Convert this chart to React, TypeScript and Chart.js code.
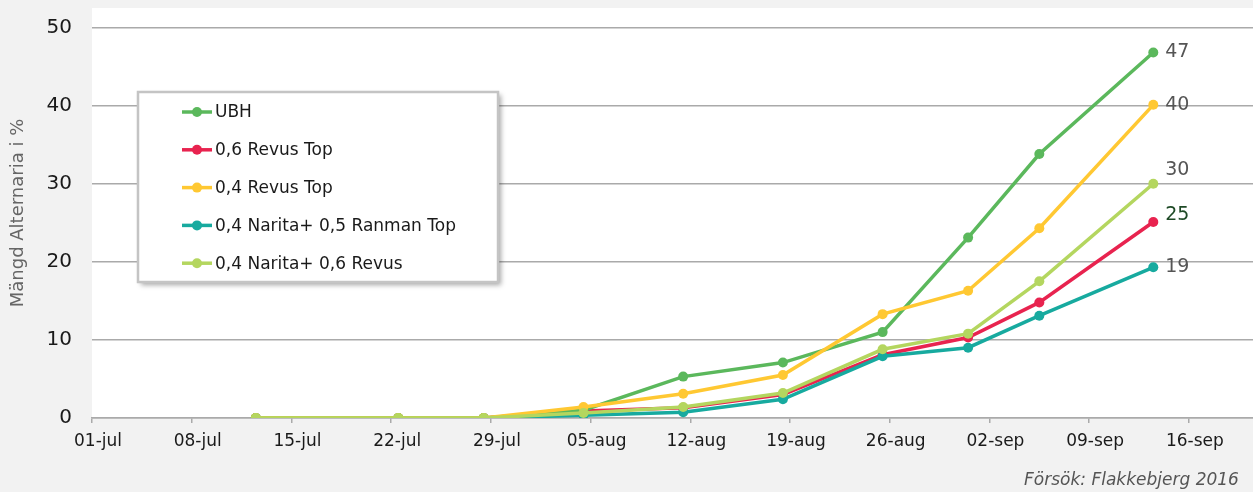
import React, { useEffect, useRef } from "react";
import { Chart, registerables } from "chart.js";

Chart.register(...registerables);

// Days after 01-jul on which samples were taken
const sampleDays = [11.5, 21.5, 27.5, 34.5, 41.5, 48.5, 55.5, 61.5, 66.5, 74.5];
const tickLabels = ["01-jul", "08-jul", "15-jul", "22-jul", "29-jul", "05-aug", "12-aug", "19-aug", "26-aug", "02-sep", "09-sep", "16-sep"];
const yTicks = [0, 10, 20, 30, 40, 50];

const seriesNames = ["UBH", "0,6 Revus Top", "0,4 Revus Top", "0,4 Narita+ 0,5 Ranman Top", "0,4 Narita+ 0,6 Revus"];
const ubh = [0, 0, 0, 1.0, 5.3, 7.1, 11.0, 23.1, 33.8, 46.8];
const revus06 = [0, 0, 0, 0.9, 1.3, 3.0, 8.1, 10.3, 14.8, 25.1];
const revus04 = [0, 0, 0, 1.4, 3.1, 5.5, 13.3, 16.3, 24.3, 40.1];
const naritaRanman = [0, 0, 0, 0.35, 0.75, 2.4, 7.9, 9.0, 13.1, 19.3];
const naritaRevus = [0, 0, 0, 0.65, 1.4, 3.2, 8.8, 10.8, 17.5, 30.0];

const seriesValues = [ubh, revus06, revus04, naritaRanman, naritaRevus];
const seriesColors = ["#5BB85C", "#E8234F", "#FFC832", "#17AA9F", "#B4D65F"];
const seriesOrder = [2, 4, 1, 3, 0];
const endLabelColors = ["#555555", "#1E4A26", "#555555", "#555555", "#555555"];
const endLabelDy = [0, -7, 0, 0, -14];

const FONT = "'DejaVu Sans', sans-serif";

const bgPlugin = {
  id: "bgPlugin",
  beforeDraw(chart: any) {
    const { ctx, chartArea } = chart;
    ctx.save();
    ctx.fillStyle = "#f2f2f2";
    ctx.fillRect(0, 0, chart.width, chart.height);
    ctx.fillStyle = "#ffffff";
    ctx.fillRect(chartArea.left, chartArea.top, chartArea.right - chartArea.left, chartArea.bottom - chartArea.top);
    ctx.restore();
  },
};

const endLabelPlugin = {
  id: "endLabelPlugin",
  afterDatasetsDraw(chart: any) {
    const { ctx } = chart;
    ctx.save();
    ctx.font = `19px ${FONT}`;
    ctx.textAlign = "left";
    ctx.textBaseline = "middle";
    chart.data.datasets.forEach((ds: any, i: number) => {
      const meta = chart.getDatasetMeta(i);
      const pt = meta.data[meta.data.length - 1];
      const v = ds.data[ds.data.length - 1].y;
      ctx.fillStyle = endLabelColors[i];
      ctx.fillText(String(Math.round(v)), pt.x + 12, pt.y + endLabelDy[i]);
    });
    ctx.restore();
  },
};

const legendPlugin = {
  id: "legendPlugin",
  afterDraw(chart: any) {
    const { ctx } = chart;
    const bx = 138, by = 92, bw = 360, bh = 190;
    ctx.save();
    ctx.shadowColor = "rgba(0,0,0,0.35)";
    ctx.shadowBlur = 5;
    ctx.shadowOffsetX = 3;
    ctx.shadowOffsetY = 3;
    ctx.fillStyle = "#ffffff";
    ctx.fillRect(bx, by, bw, bh);
    ctx.restore();
    ctx.save();
    ctx.strokeStyle = "#c4c4c4";
    ctx.lineWidth = 2.5;
    ctx.strokeRect(bx, by, bw, bh);
    ctx.font = `17px ${FONT}`;
    ctx.textBaseline = "middle";
    ctx.textAlign = "left";
    chart.data.datasets.forEach((ds: any, i: number) => {
      const y = 112 + i * 37.8;
      ctx.strokeStyle = ds.borderColor;
      ctx.lineWidth = 3.5;
      ctx.beginPath();
      ctx.moveTo(182, y);
      ctx.lineTo(212, y);
      ctx.stroke();
      ctx.fillStyle = ds.borderColor;
      ctx.beginPath();
      ctx.arc(197, y, 5, 0, Math.PI * 2);
      ctx.fill();
      ctx.fillStyle = "#1a1a1a";
      ctx.fillText(ds.label, 215, y + 1);
    });
    ctx.font = `italic 17px ${FONT}`;
    ctx.fillStyle = "#555555";
    ctx.textBaseline = "alphabetic";
    ctx.fillText("Försök: Flakkebjerg 2016", 1024, 485);
    ctx.restore();
  },
};

export default function App() {
  const ref = useRef<HTMLCanvasElement>(null);
  useEffect(() => {
    document.body.style.margin = "0";
    const datasets = seriesNames.map((name, i) => ({
      label: name,
      data: sampleDays.map((d, j) => ({ x: d, y: seriesValues[i][j] })),
      borderColor: seriesColors[i],
      backgroundColor: seriesColors[i],
      pointBackgroundColor: seriesColors[i],
      pointBorderColor: seriesColors[i],
      borderWidth: 3.5,
      pointRadius: 5,
      pointBorderWidth: 0,
      tension: 0,
      order: seriesOrder[i],
    }));
    const chart = new Chart(ref.current!, {
      type: "line",
      data: { datasets },
      options: {
        animation: false,
        responsive: false,
        layout: { autoPadding: false, padding: { top: 8, left: 0, right: 0, bottom: 0 } },
        plugins: { legend: { display: false }, tooltip: { enabled: false } },
        scales: {
          x: {
            type: "linear",
            min: 0,
            max: 81.5,
            afterBuildTicks: (s: any) => {
              s.ticks = tickLabels.map((_, i) => ({ value: i * 7 }));
            },
            afterFit: (s: any) => {
              s.height = 74;
              s.paddingLeft = 0;
              s.paddingRight = 0;
            },
            ticks: {
              callback: (v: any) => tickLabels[Math.round(Number(v) / 7)] ?? "",
              font: { family: FONT, size: 17 },
              color: "#1a1a1a",
              padding: 8,
              labelOffset: 6,
              maxRotation: 0,
              autoSkip: false,
            },
            grid: { drawOnChartArea: false, drawTicks: true, tickLength: 5, color: "#aaaaaa", lineWidth: 1.5 },
            border: { color: "#aaaaaa", width: 1.5 },
          },
          y: {
            min: 0,
            max: 52.5,
            afterBuildTicks: (s: any) => {
              s.ticks = yTicks.map((v) => ({ value: v }));
            },
            afterFit: (s: any) => {
              s.width = 92;
              s.paddingTop = 0;
              s.paddingBottom = 0;
            },
            ticks: { font: { family: FONT, size: 20 }, color: "#1a1a1a", padding: 20 },
            grid: { color: "#aaaaaa", lineWidth: 1.5, drawTicks: false },
            border: { display: false },
            title: {
              display: true,
              text: "Mängd Alternaria i %",
              color: "#666666",
              font: { family: FONT, size: 18 },
              padding: { top: 8, bottom: 0 },
            },
          },
        },
      },
      plugins: [bgPlugin, endLabelPlugin, legendPlugin],
    } as any);
    return () => chart.destroy();
  }, []);
  return (
    <div style={{ position: "absolute", left: 0, top: 0, width: 1253, height: 492 }}>
      <canvas ref={ref} width={1253} height={492} />
    </div>
  );
}
